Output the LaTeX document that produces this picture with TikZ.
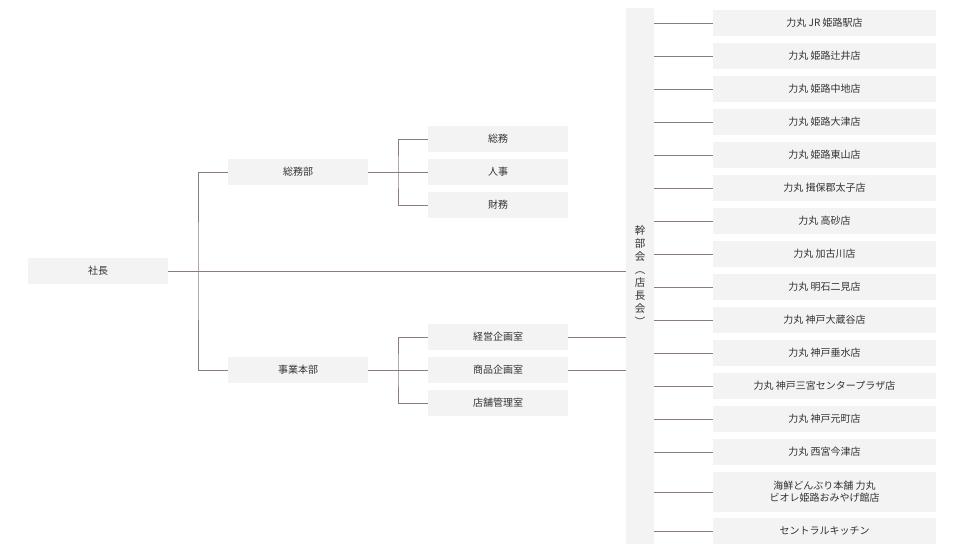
\documentclass[tikz,border=0pt]{standalone}
\usepackage{fontspec}
\newfontfamily\jp{Noto Sans CJK JP}
\definecolor{boxc}{HTML}{F3F3F3}
\definecolor{linec}{HTML}{8C7B80}
\definecolor{txt}{HTML}{333333}
\tikzset{
 bx/.style={fill=boxc,draw=none,minimum width=140pt,minimum height=26pt,inner sep=0pt,font=\jp\fontsize{10}{12}\selectfont,text=txt},
 st/.style={bx,minimum width=223pt,align=center},
 ln/.style={draw=linec,line width=0.6pt}
}
\begin{document}
\begin{tikzpicture}[x=1pt,y=-1pt]
\useasboundingbox (0,0) rectangle (960,554);
\node[bx] (ceo) at (98,271) {社長};
\node[bx] (somubu) at (298,172) {総務部};
\node[bx] (jigyo) at (298,370) {事業本部};
\node[bx] (somu) at (498,139) {総務};
\node[bx] (jinji) at (498,172) {人事};
\node[bx] (zaimu) at (498,205) {財務};
\node[bx] (keiei) at (498,337) {経営企画室};
\node[bx] (shohin) at (498,370) {商品企画室};
\node[bx] (tenpo) at (498,403) {店舗管理室};
\node[fill=boxc,minimum width=28pt,minimum height=536pt,inner sep=0pt] (bar) at (640,276) {};
\node[font=\jp\fontsize{10.5}{13}\selectfont,text=txt,align=center,inner sep=0pt] (bartxt) at (640,276)
 {幹\\部\\会\\\rotatebox[origin=c]{-90}{（}\\店\\長\\会\\\rotatebox[origin=c]{-90}{）}};
\foreach \t [count=\i from 0] in {力丸 JR 姫路駅店,力丸 姫路辻井店,力丸 姫路中地店,力丸 姫路大津店,力丸 姫路東山店,力丸 揖保郡太子店,力丸 高砂店,力丸 加古川店,力丸 明石二見店,力丸 神戸大蔵谷店,力丸 神戸垂水店,力丸 神戸三宮センタープラザ店,力丸 神戸元町店,力丸 西宮今津店}{
 \node[st] (s\i) at (824.5,23+33*\i) {\t};
 \draw[ln] (bar.east |- s\i.west) -- (s\i.west);
}
\node[st,minimum height=40pt] (s14) at (824.5,492) {海鮮どんぶり本舗 力丸\\ビオレ姫路おみやげ館店};
\draw[ln] (bar.east |- s14.west) -- (s14.west);
\node[st] (s15) at (824.5,531) {セントラルキッチン};
\draw[ln] (bar.east |- s15.west) -- (s15.west);
\coordinate (v1) at (198,271);
\draw[ln] (ceo.east) -- (bar.west |- ceo.east);
\draw[ln] (somubu.west) -| (v1) |- (jigyo.west);
\coordinate (v2) at (398,172);
\draw[ln] (somubu.east) -- (jinji.west);
\draw[ln] (somu.west) -| (v2) |- (zaimu.west);
\coordinate (v3) at (398,370);
\draw[ln] (jigyo.east) -- (shohin.west);
\draw[ln] (keiei.west) -| (v3) |- (tenpo.west);
\draw[ln] (keiei.east) -- (bar.west |- keiei.east);
\draw[ln] (shohin.east) -- (bar.west |- shohin.east);
\end{tikzpicture}
\end{document}
